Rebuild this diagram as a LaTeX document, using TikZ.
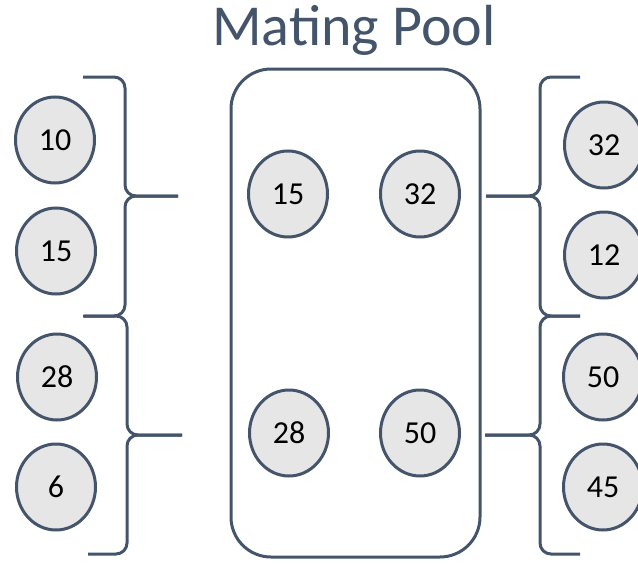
\documentclass[tikz,border=0pt]{standalone}
\usepackage{fontspec}
\setmainfont{Carlito}
\usetikzlibrary{shapes.geometric}
\definecolor{slate}{HTML}{44546A}
\definecolor{genefill}{HTML}{E7E6E6}
\tikzset{
  gene/.style={ellipse,draw=slate,fill=genefill,line width=3pt,
    minimum width=79pt,minimum height=86pt,inner sep=0pt,
    font=\fontsize{32}{34}\selectfont},
  brace/.style={draw=slate,line width=3pt,rounded corners=11pt}
}
\begin{document}
\begin{tikzpicture}[x=1pt,y=-1pt]
\useasboundingbox (0,0) rectangle (638,565);
\node[text=slate,font=\fontsize{58}{60}\selectfont] (title) at (354,30) {Mating Pool};
\draw[slate,line width=3pt,rounded corners=40pt] (231,69) rectangle (480,557);
% parents on the left
\node[gene] (l1) at (55,140) {10};
\node[gene] (l2) at (56,251) {15};
\node[gene] (l3) at (57,377) {28};
\node[gene] (l4) at (56,487) {6};
% selected ones in the pool
\node[gene] (p1) at (288,194) {15};
\node[gene] (p2) at (420,194) {32};
\node[gene] (p3) at (289,433) {28};
\node[gene] (p4) at (420,433) {50};
% parents on the right
\node[gene] (r1) at (604,145) {32};
\node[gene] (r2) at (604,255) {12};
\node[gene] (r3) at (603,377) {50};
\node[gene] (r4) at (603,487) {45};
% left braces
\draw[brace] (83,77) -- (125,77) -- (125,196) -- (178,196);
\draw[brace] (178,196) -- (125,196) -- (125,316) -- (83,316);
\draw[brace] (84,316) -- (127,316) -- (127,435) -- (182,435);
\draw[brace] (182,435) -- (127,435) -- (127,554) -- (88,554);
% right braces
\draw[brace] (580,77) -- (540,77) -- (540,196) -- (486,196);
\draw[brace] (486,196) -- (540,196) -- (540,316) -- (580,316);
\draw[brace] (580,316) -- (540,316) -- (540,435) -- (485,435);
\draw[brace] (485,435) -- (540,435) -- (540,554) -- (580,554);
\end{tikzpicture}
\end{document}
